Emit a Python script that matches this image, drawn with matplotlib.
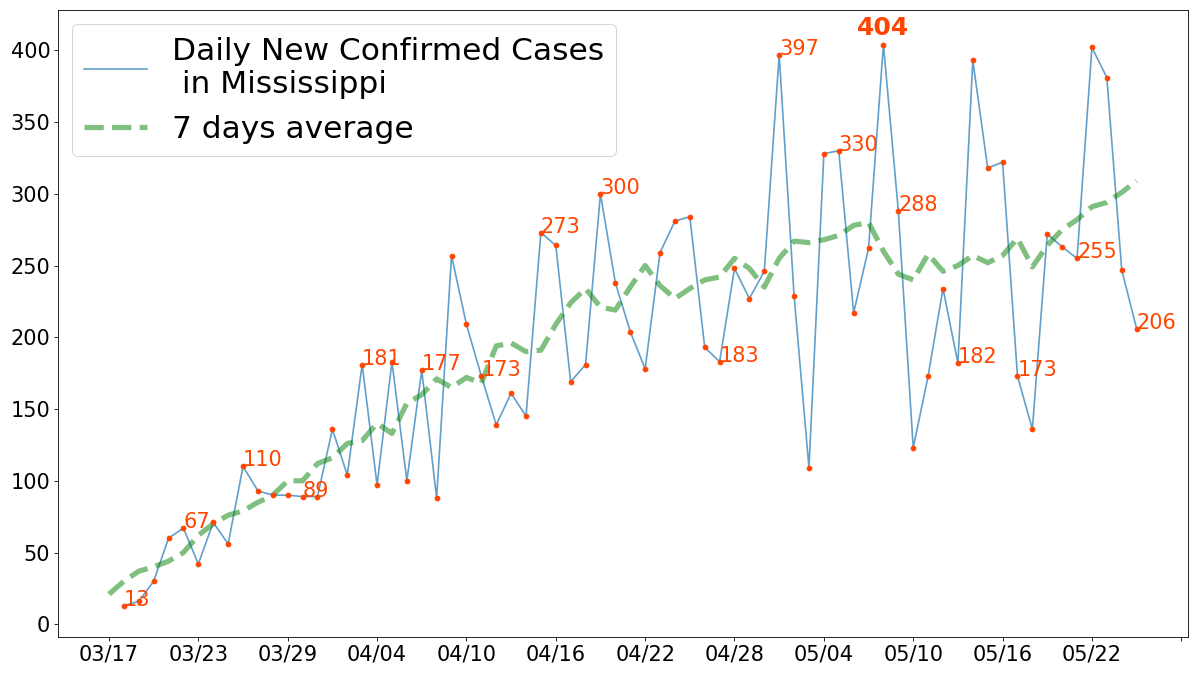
import pandas as pd
import matplotlib
matplotlib.use('Agg')
import matplotlib.pyplot as plt


start = '2020-03-17'

# daily new cases, 03/18 .. 05/25
daily = [13, 16, 30, 60, 67, 42, 71, 56, 110, 93, 90, 90, 89, 89, 136, 104,
         181, 97, 183, 100, 177, 88, 257, 209, 173, 139, 161, 145, 273, 264,
         169, 181, 300, 238, 204, 178, 259, 281, 284, 193, 183, 248, 227, 246,
         397, 229, 109, 328, 330, 217, 262, 404, 288, 123, 173, 234, 182, 393,
         318, 322, 173, 136, 272, 263, 255, 402, 381, 247, 206]

# 7 days average, 03/17 .. 05/25
average = [21, 30, 37, 40, 44, 50, 62, 70, 76, 79, 85, 90, 100, 100, 112, 116,
           126, 128, 140, 133, 154, 160, 171, 165, 172, 168, 194, 196, 190, 191,
           209, 224, 234, 221, 219, 235, 250, 236, 227, 234, 240, 242, 255, 248,
           235, 255, 267, 266, 268, 271, 278, 280, 260, 244, 240, 258, 246, 250,
           257, 252, 257, 269, 249, 264, 275, 282, 291, 294, 301, 309]

# points that got a number next to them (position in daily)
labelled = [0, 4, 8, 12, 16, 20, 24, 28, 32, 40, 44, 48, 52, 56, 60, 64, 68]

avg_days = pd.date_range(start, periods=len(average))
daily_days = avg_days[1:]

fig, ax = plt.subplots(figsize=(16, 9), dpi=75)
fig.subplots_adjust(left=0.048, right=0.99, bottom=0.056, top=0.985)

ax.plot(daily_days, daily, color='tab:blue', alpha=0.7, lw=1.6,
        label='Daily New Confirmed Cases\n in Mississippi')
ax.plot(daily_days, daily, 'o', color='orangered', ms=4.5, zorder=3)
ax.plot(avg_days, average, '--', color='g', alpha=0.5, lw=5,
        label='7 days average')

for i in labelled:
    ax.text(daily_days[i], daily[i], str(daily[i]), color='orangered', fontsize=20)

top = max(range(len(daily)), key=lambda i: daily[i])
ax.text(daily_days[top], daily[top] + 3, str(daily[top]), color='orangered',
        fontsize=24, fontweight='bold', ha='center', va='bottom')

ticks = list(pd.date_range(start, periods=13, freq='6D'))
ax.set_xticks(ticks)
ax.set_xticklabels([d.strftime('%m/%d') for d in ticks[:-1]] + [''])
ax.set_yticks(range(0, 401, 50))
ax.set_ylim(-9, 428)
ax.tick_params(labelsize=20)

ax.legend(loc='upper left', fontsize=30, borderaxespad=0.45)

fig.savefig('out.png', dpi=75)
